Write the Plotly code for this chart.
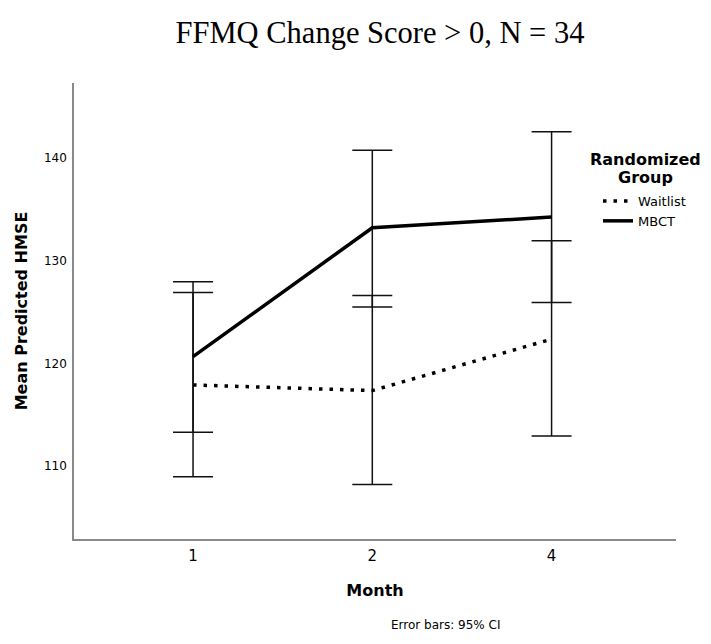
import plotly.graph_objects as go

months = ["1", "2", "4"]
waitlist_mean = [117.9, 117.35, 122.36]
waitlist_low = [108.97, 108.2, 112.93]
waitlist_high = [126.9, 126.6, 131.94]
mbct_mean = [120.66, 133.2, 134.25]
mbct_low = [113.29, 125.5, 125.93]
mbct_high = [127.94, 140.74, 142.56]

xi = list(range(len(months)))

W, H = 703, 636
L, R, T, B = 66, 35, 75, 105
PW, PH = W - L - R, H - T - B


def px(x):
    return (x - L) / PW


def py(y):
    return (H - B - y) / PH


def err(mean, low, high):
    return dict(type="data", symmetric=False,
                array=[h - m for h, m in zip(high, mean)],
                arrayminus=[m - l for m, l in zip(mean, low)],
                color="#111111", thickness=1.5, width=20)


fig = go.Figure()
fig.add_trace(go.Scatter(x=xi, y=waitlist_mean, mode="lines", name="Waitlist",
                         line=dict(color="black", width=3.5, dash="3.5px,7px"),
                         error_y=err(waitlist_mean, waitlist_low, waitlist_high)))
fig.add_trace(go.Scatter(x=xi, y=mbct_mean, mode="lines", name="MBCT",
                         line=dict(color="black", width=3.5),
                         error_y=err(mbct_mean, mbct_low, mbct_high)))

fig.update_layout(
    width=W, height=H,
    margin=dict(l=L, r=R, t=T, b=B),
    paper_bgcolor="white", plot_bgcolor="white",
    title=dict(text="FFMQ Change Score &gt; 0, N = 34",
               font=dict(family="Liberation Serif", size=30.5, color="black"),
               x=372 / W, xref="container", xanchor="center",
               y=1 - 24 / H, yref="container", yanchor="middle"),
    font=dict(family="DejaVu Sans", color="black"),
    xaxis=dict(range=[-0.664, 2.694], tickmode="array", tickvals=xi, ticktext=months,
               showgrid=False, zeroline=False, showline=True, linecolor="#8a8a8a", linewidth=1.5,
               ticks="", ticklabelstandoff=2, tickfont=dict(size=15, color="black"),
               title=dict(text="<b>Month</b>", font=dict(size=16, color="black"), standoff=21)),
    yaxis=dict(range=[102.9, 147.3], tickvals=[110, 120, 130, 140],
               showgrid=False, zeroline=False, showline=True, linecolor="#8a8a8a", linewidth=1.5,
               ticks="", ticklabelstandoff=3, tickfont=dict(size=12, color="black"),
               title=dict(text="<b>Mean Predicted HMSE</b>", font=dict(size=16, color="black"), standoff=12)),
    legend=dict(x=px(590), xanchor="left", y=py(178), yanchor="top",
                xref="paper", yref="paper",
                font=dict(size=13, color="black"), bgcolor="rgba(0,0,0,0)",
                itemwidth=30, tracegroupgap=0),
    annotations=[
        dict(text="Error bars: 95% CI", x=px(437), y=py(617), xref="paper", yref="paper",
             showarrow=False, font=dict(size=12, color="black"),
             xanchor="center", yanchor="middle"),
        dict(text="<b>Randomized</b>", x=px(637.5), y=py(151), xref="paper", yref="paper",
             showarrow=False, font=dict(size=16, color="black"),
             xanchor="center", yanchor="middle"),
        dict(text="<b>Group</b>", x=px(637.5), y=py(169), xref="paper", yref="paper",
             showarrow=False, font=dict(size=16, color="black"),
             xanchor="center", yanchor="middle"),
    ],
)

fig.write_html("out.html")
